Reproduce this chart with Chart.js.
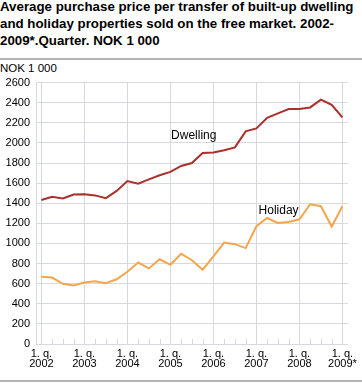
<!DOCTYPE html>
<html>
<head>
<meta charset="utf-8">
<script src="https://cdn.jsdelivr.net/npm/chart.js@4/dist/chart.umd.min.js"></script>
<style>
  body { margin: 0; width: 362px; height: 383px; position: relative; background: #fff; font-family: 'Liberation Sans', Arial, sans-serif; overflow: hidden; }
  #title { position: absolute; left: 0; top: -2px; width: 362px; font-weight: bold; font-size: 13.3px; line-height: 17px; color: #000; white-space: nowrap; }
  #sep { position: absolute; left: 0; top: 58px; width: 362px; height: 0; border-top: 2px solid #b4b4b4; }
  #unit { position: absolute; left: 0; top: 62px; font-size: 11.5px; color: #000; }
  #bottom { position: absolute; left: 0; top: 380px; width: 362px; border-top: 2px solid #b4b4b4; }
  #wrap { position: absolute; left: 0; top: 70px; width: 362px; height: 308px; }
</style>
</head>
<body>
<div id="title">Average purchase price per transfer of built-up dwelling<br>and holiday properties sold on the free market. 2002-<br>2009*.Quarter. NOK 1 000</div>
<div id="sep"></div>
<div id="unit">NOK 1 000</div>
<div id="wrap"><canvas id="chart" width="362" height="308"></canvas></div>
<div id="bottom"></div>
<script>
// år og kvartal
const years = ['2002', '2003', '2004', '2005', '2006', '2007', '2008', '2009*'];
const quarterNames = ['1. q.', '2. q.', '3. q.', '4. q.'];

// NOK 1 000
const dwelling = [1432, 1464, 1448, 1487, 1490, 1478, 1451, 1523, 1620, 1595, 1637, 1679, 1712, 1771, 1800, 1900,
                  1905, 1927, 1956, 2115, 2144, 2249, 2294, 2337, 2337, 2353, 2430, 2379, 2255];
const holiday = [668, 661, 599, 583, 612, 625, 605, 644, 719, 810, 752, 843, 788, 898, 833, 739,
                 872, 1009, 993, 954, 1171, 1253, 1204, 1214, 1240, 1390, 1370, 1168, 1370];

const yTicks = [0, 200, 400, 600, 800, 1000, 1200, 1400, 1600, 1800, 2000, 2200, 2400, 2600];

const categories = [];
years.forEach(y => quarterNames.forEach(q => categories.push([q, y])));
categories.length = dwelling.length;

const gridColor = '#d6d9e0';
const fontFamily = '"Liberation Sans", Arial, sans-serif';

// små streker for hvert kvartal + tekst på linjene
const extras = {
    id: 'extras',
    beforeDatasetsDraw(chart) {
        const { ctx, scales: { x }, chartArea } = chart;
        ctx.save();
        ctx.strokeStyle = gridColor;
        ctx.lineWidth = 1;
        categories.forEach((c, i) => {
            const px = Math.round(x.getPixelForValue(i)) + 0.5;
            ctx.beginPath();
            ctx.moveTo(px, chartArea.bottom);
            ctx.lineTo(px, chartArea.bottom - 5);
            ctx.stroke();
        });
        ctx.restore();
    },
    afterDatasetsDraw(chart) {
        const { ctx, scales: { x, y } } = chart;
        ctx.save();
        ctx.font = '12px ' + fontFamily;
        ctx.fillStyle = '#000';
        ctx.textAlign = 'center';
        ctx.textBaseline = 'middle';
        ctx.fillText('Dwelling', x.getPixelForValue(14.17), y.getPixelForValue(2076));
        ctx.fillText('Holiday', x.getPixelForValue(22.06), y.getPixelForValue(1329));
        ctx.restore();
    }
};

new Chart(document.getElementById('chart'), {
    type: 'line',
    data: {
        labels: categories,
        datasets: [
            { label: 'Dwelling', data: dwelling, borderColor: '#a9302b', borderWidth: 2, pointRadius: 0, tension: 0 },
            { label: 'Holiday', data: holiday, borderColor: '#f5a54b', borderWidth: 2, pointRadius: 0, tension: 0 }
        ]
    },
    options: {
        responsive: false,
        animation: false,
        devicePixelRatio: 1,
        layout: { padding: { top: 7, right: 12, bottom: 0, left: 0 } },
        plugins: { legend: { display: false }, tooltip: { enabled: false } },
        scales: {
            x: {
                offset: true,
                afterFit(scale) { scale.height = 34; },
                grid: {
                    offset: false,
                    drawTicks: false,
                    color: ctx => (ctx.index % 4 === 0 ? gridColor : 'transparent')
                },
                border: { color: gridColor },
                ticks: {
                    autoSkip: false,
                    maxRotation: 0,
                    padding: 5,
                    color: '#000',
                    font: { family: fontFamily, size: 11, lineHeight: '10px' },
                    callback(v, i) { return i % 4 === 0 ? categories[i] : ''; }
                }
            },
            y: {
                min: 0,
                max: 2600,
                afterFit(scale) { scale.width = 36; },
                afterBuildTicks(scale) { scale.ticks = yTicks.map(v => ({ value: v })); },
                grid: { color: gridColor, drawTicks: false },
                border: { color: gridColor },
                ticks: {
                    padding: 6,
                    color: '#000',
                    font: { family: fontFamily, size: 11 },
                    callback: v => String(v)
                }
            }
        }
    },
    plugins: [extras]
});
</script>
</body>
</html>
